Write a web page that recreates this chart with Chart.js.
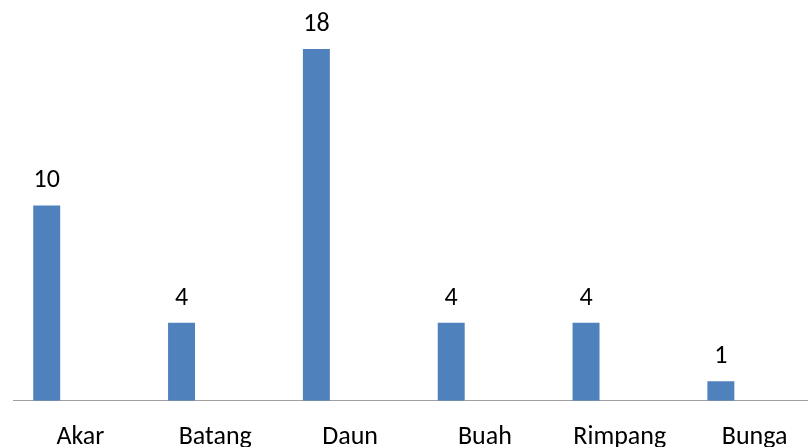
<!DOCTYPE html>
<html>
<head>
<meta charset="utf-8">
<script src="https://cdn.jsdelivr.net/npm/chart.js@4"></script>
<style>
    html, body {
        margin: 0;
        padding: 0;
        background: #fff;
        overflow: hidden;
    }
    /* plot runs a little past the right and bottom edges of the window */
    #wrap {
        position: relative;
        width: 822px;
        height: 474px;
    }
</style>
</head>
<body>
<div id="wrap">
    <canvas id="plantChart"></canvas>
</div>
<script>
// Plant parts used
const categories = ["Akar", "Batang", "Daun", "Buah", "Rimpang", "Bunga"];
const counts = [10, 4, 18, 4, 4, 1];
// second series is empty, it only keeps the bars on the left of each slot
const emptySeries = [null, null, null, null, null, null];

const barColor = "#4f81bd";
const labelFont = "Carlito, Calibri, 'Open Sans', sans-serif";

// Value labels above each bar
const valueLabels = {
    id: "valueLabels",
    afterDatasetsDraw(chart) {
        const ctx = chart.ctx;
        const meta = chart.getDatasetMeta(0);
        ctx.save();
        ctx.font = "26px " + labelFont;
        ctx.fillStyle = "#000";
        ctx.textAlign = "center";
        ctx.textBaseline = "alphabetic";
        meta.data.forEach((bar, i) => {
            ctx.fillText(String(counts[i]), bar.x, bar.y - 18);
        });
        ctx.restore();
    }
};

const ctx = document.getElementById("plantChart").getContext("2d");

new Chart(ctx, {
    type: "bar",
    data: {
        labels: categories,
        datasets: [
            {
                label: "Jumlah",
                data: counts,
                backgroundColor: barColor,
                borderWidth: 0
            },
            {
                label: "",
                data: emptySeries,
                backgroundColor: barColor,
                borderWidth: 0
            }
        ]
    },
    options: {
        responsive: true,
        maintainAspectRatio: false,
        animation: false,
        datasets: {
            bar: {
                categoryPercentage: 1,
                barPercentage: 0.4
            }
        },
        layout: {
            padding: { left: 13, right: 0, top: 10, bottom: 0 }
        },
        plugins: {
            legend: { display: false },
            tooltip: { enabled: false }
        },
        scales: {
            x: {
                grid: { display: false, drawTicks: false },
                border: { display: true, color: "#a0a0a0", width: 1 },
                ticks: {
                    color: "#000",
                    padding: 21,
                    font: { family: labelFont, size: 26 }
                }
            },
            y: {
                display: false,
                min: 0,
                max: 20
            }
        }
    },
    plugins: [valueLabels]
});
</script>
</body>
</html>
